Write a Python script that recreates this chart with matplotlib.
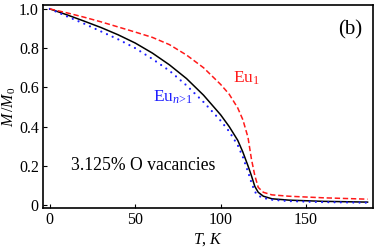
import matplotlib
matplotlib.use("Agg")
import matplotlib.pyplot as plt

T = [0, 10, 20, 30, 40, 50, 60, 70, 80, 90, 100, 105, 110, 113, 116, 118, 120, 122, 125, 130, 140, 160, 186]
M_black = [1.0, 0.97, 0.938, 0.905, 0.868, 0.826, 0.775, 0.715, 0.645, 0.56, 0.46, 0.40, 0.33, 0.27, 0.20, 0.15,
           0.095, 0.065, 0.045, 0.032, 0.025, 0.019, 0.015]
M_blue = [1.0, 0.962, 0.925, 0.885, 0.845, 0.80, 0.745, 0.685, 0.61, 0.525, 0.43, 0.375, 0.305, 0.245, 0.17, 0.115,
          0.068, 0.048, 0.036, 0.027, 0.02, 0.015, 0.012]
M_red = [1.0, 0.98, 0.958, 0.934, 0.908, 0.882, 0.855, 0.818, 0.765, 0.70, 0.615, 0.565, 0.495, 0.435, 0.345, 0.235,
         0.15, 0.09, 0.065, 0.052, 0.045, 0.037, 0.03]

xticks = [0, 50, 100, 150]
yticks = [0, 0.2, 0.4, 0.6, 0.8, 1.0]
yticklabels = ["0", "0.2", "0.4", "0.6", "0.8", "1.0"]

plt.rcParams['font.family'] = ['Liberation Serif', 'DejaVu Serif']
plt.rcParams['mathtext.fontset'] = 'custom'
plt.rcParams['mathtext.rm'] = 'Liberation Serif'
plt.rcParams['mathtext.it'] = 'Liberation Serif:italic'

fig = plt.figure(figsize=(3.74, 2.5), dpi=100)
ax = fig.add_axes([0.115, 0.168, 0.8815, 0.812])

ax.plot(T, M_black, color='black', lw=1.1, solid_joinstyle='round')
ax.plot(T, M_blue, color='#2020ff', lw=1.6, linestyle=(0, (0.01, 2.8)), dash_capstyle='round')
ax.plot(T, M_red, color='#ff1a1a', lw=1.1, linestyle=(0, (3.5, 1.8)))

ax.set_xlim(-4, 189)
ax.set_ylim(-0.015, 1.02)
ax.set_xticks(xticks)
ax.set_yticks(yticks)
ax.set_yticklabels(yticklabels)
ax.tick_params(direction='in', length=3, width=0.8, labelsize=11.5, top=False, right=False, pad=3)
for s in ax.spines.values():
    s.set_linewidth(1.2)

ax.set_xlabel(r"$T$, $K$", fontsize=11.5, labelpad=2)
ax.set_ylabel(r"$M\,/M_0$", fontsize=11.5, labelpad=1)

ax.text(183, 0.893, "(b)", fontsize=15, ha='right', va='center')
ax.text(107.5, 0.648, r"Eu$_1$", fontsize=12.5, color='#ff1a1a', ha='left', va='center')
ax.text(60.5, 0.55, r"Eu$_{n\!>\!1}$", fontsize=12.5, color='#2020ff', ha='left', va='center')
ax.text(12.5, 0.2, "3.125% O vacancies", fontsize=12.7, ha='left', va='center')

fig.savefig("out.png", dpi=100)
